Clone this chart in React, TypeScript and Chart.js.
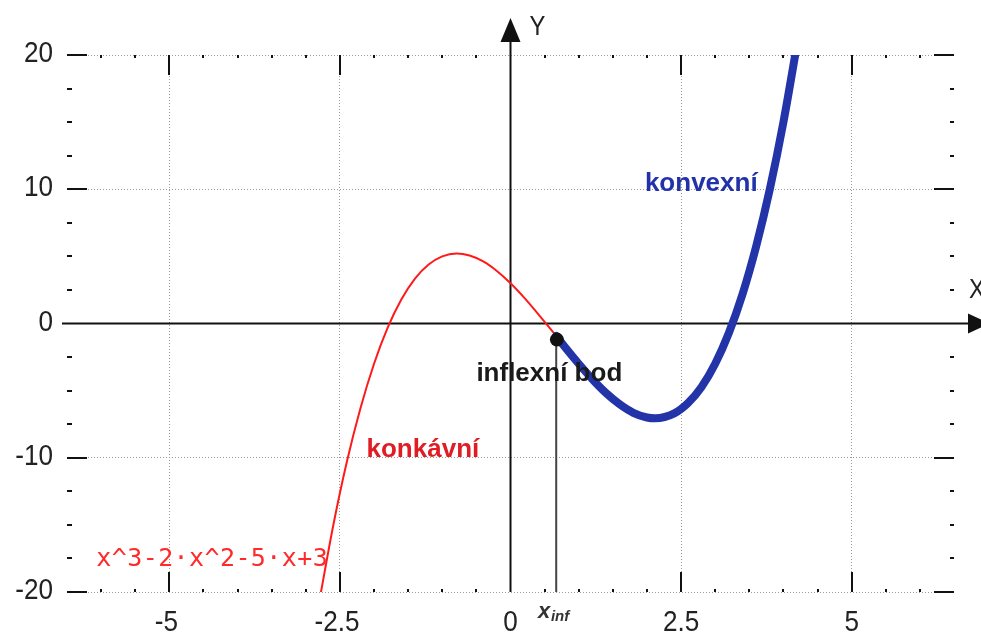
import React, { useEffect, useRef } from "react";
import { Chart, registerables } from "chart.js";

Chart.register(...registerables);

// f(x): red (whole curve, concave part visible) and blue (convex part)
const redX = [-2.8, -2.6, -2.4, -2.2, -2.0, -1.8, -1.6, -1.4, -1.2, -1.0, -0.79, -0.6, -0.4, -0.2, 0, 0.2, 0.4, 0.67, 0.8, 1.0, 1.2, 1.4, 1.6, 1.8, 2.0, 2.12, 2.4, 2.6, 2.8, 3.0, 3.2, 3.4, 3.6, 3.8, 4.0, 4.2];
const redY = [-20.63, -15.1, -10.34, -6.33, -3.0, -0.31, 1.78, 3.34, 4.39, 5.0, 5.21, 5.06, 4.62, 3.91, 3.0, 1.93, 0.74, -0.93, -1.77, -3.0, -4.15, -5.18, -6.02, -6.65, -7.0, -7.06, -6.7, -5.94, -4.73, -3.0, -0.71, 2.18, 5.74, 9.99, 15.0, 20.81];
const blueX = [0.67, 0.8, 1.0, 1.2, 1.4, 1.6, 1.8, 2.0, 2.12, 2.4, 2.6, 2.8, 3.0, 3.2, 3.4, 3.6, 3.8, 4.0, 4.2];
const blueY = [-0.93, -1.77, -3.0, -4.15, -5.18, -6.02, -6.65, -7.0, -7.06, -6.7, -5.94, -4.73, -3.0, -0.71, 2.18, 5.74, 9.99, 15.0, 20.81];
const inflX = [0.68];
const inflY = [-1.2];

const xTickValues = [-5, -2.5, 0, 2.5, 5];
const xTickLabels = ["-5", "-2.5", "0", "2.5", "5"];
const yTickValues = [20, 10, 0, -10, -20];
const yTickLabels = ["20", "10", "0", "-10", "-20"];

const funcLabel = "x^3-2·x^2-5·x+3";
const convexLabel = "konvexní";
const concaveLabel = "konkávní";
const inflLabel = "inflexní bod";

const X_MIN = -6.5;
const X_MAX = 6.5;
const Y_MIN = -20;
const Y_MAX = 20;

function txt(ctx: CanvasRenderingContext2D, s: string, x: number, y: number, font: string, color: string, align: CanvasTextAlign, baseline: CanvasTextBaseline, sx = 1, spacing = "0px") {
  ctx.save();
  ctx.font = font;
  ctx.fillStyle = color;
  ctx.textAlign = align;
  ctx.textBaseline = baseline;
  (ctx as any).letterSpacing = spacing;
  ctx.translate(x, y);
  ctx.scale(sx, 1);
  ctx.fillText(s, 0, 0);
  ctx.restore();
}

const overlay = {
  id: "overlay",
  beforeDatasetsDraw(chart: any) {
    const ctx: CanvasRenderingContext2D = chart.ctx;
    const xs = chart.scales.x;
    const ys = chart.scales.y;
    const a = chart.chartArea;
    const x0 = xs.getPixelForValue(0);
    const y0 = ys.getPixelForValue(0);
    ctx.save();
    ctx.strokeStyle = "#111";
    ctx.fillStyle = "#111";
    ctx.lineWidth = 2;
    ctx.beginPath();
    ctx.moveTo(a.left - 5, y0);
    ctx.lineTo(970, y0);
    ctx.stroke();
    ctx.beginPath();
    ctx.moveTo(968, y0 - 10);
    ctx.lineTo(990, y0);
    ctx.lineTo(968, y0 + 10);
    ctx.closePath();
    ctx.fill();
    ctx.beginPath();
    ctx.moveTo(x0, a.bottom);
    ctx.lineTo(x0, 40);
    ctx.stroke();
    ctx.beginPath();
    ctx.moveTo(x0 - 10, 42);
    ctx.lineTo(x0, 18);
    ctx.lineTo(x0 + 10, 42);
    ctx.closePath();
    ctx.fill();
    ctx.restore();
  },
  afterDraw(chart: any) {
    const ctx: CanvasRenderingContext2D = chart.ctx;
    const xs = chart.scales.x;
    const ys = chart.scales.y;
    const a = chart.chartArea;
    ctx.save();
    ctx.fillStyle = "#111";
    for (let v = -6; v <= 6.001; v += 0.5) {
      const px = Math.round(xs.getPixelForValue(v));
      if (Math.abs(v) < 1e-6) continue;
      const major = Math.abs(v % 2.5) < 1e-6;
      if (major) {
        ctx.fillRect(px - 1, a.top, 2, 20);
        ctx.fillRect(px - 1, a.bottom - 20, 2, 20);
      } else {
        ctx.fillRect(px - 1, a.top, 2, 3);
        ctx.fillRect(px - 1, a.bottom - 3, 2, 3);
      }
    }
    for (let v = -20; v <= 20.001; v += 2.5) {
      const py = Math.round(ys.getPixelForValue(v));
      const major = Math.abs(v % 10) < 1e-6;
      if (major) {
        if (Math.abs(v) < 1e-6) continue;
        ctx.fillRect(a.left, py - 1, 20, 2);
        ctx.fillRect(a.right - 20, py - 1, 20, 2);
      } else {
        ctx.fillRect(a.left, py - 1, 5, 2);
        ctx.fillRect(a.right - 4, py - 1, 4, 2);
      }
    }
    ctx.restore();

    const tickFont = '29px "Liberation Sans", Arial, sans-serif';
    yTickValues.forEach((v, i) => {
      txt(ctx, yTickLabels[i], 53, ys.getPixelForValue(v) - 1, tickFont, "#222", "right", "middle", 0.9);
    });
    xTickValues.forEach((v, i) => {
      txt(ctx, xTickLabels[i], xs.getPixelForValue(v) - (v < 0 ? 3 : 0), 631, tickFont, "#222", "center", "alphabetic", 0.9);
    });
    txt(ctx, "Y", xs.getPixelForValue(0) + 19, 35, '28px "Liberation Sans", Arial, sans-serif', "#222", "left", "alphabetic", 0.85);
    txt(ctx, "X", 969, 298, '28px "Liberation Sans", Arial, sans-serif', "#222", "left", "alphabetic", 0.85);

    const bold = 'bold 26px "Liberation Sans", Arial, sans-serif';
    txt(ctx, convexLabel, xs.getPixelForValue(1.97), ys.getPixelForValue(9.85), bold, "#2233aa", "left", "alphabetic");
    txt(ctx, concaveLabel, xs.getPixelForValue(-2.11), ys.getPixelForValue(-9.93), bold, "#e01c24", "left", "alphabetic");
    txt(ctx, inflLabel, xs.getPixelForValue(-0.5), ys.getPixelForValue(-4.25), bold, "#1a1a1a", "left", "alphabetic");
    txt(ctx, funcLabel, xs.getPixelForValue(-6.07), ys.getPixelForValue(-18.06), '25px "DejaVu Sans Mono", monospace', "#ff2a2a", "left", "alphabetic", 1, "0.4px");
    const xi = xs.getPixelForValue(inflX[0]);
    txt(ctx, "x", xi - 19, 618, 'italic bold 22px "Liberation Sans", Arial, sans-serif', "#333", "left", "alphabetic");
    txt(ctx, "inf", xi - 6, 621, 'italic bold 15px "Liberation Sans", Arial, sans-serif', "#333", "left", "alphabetic");
  },
};

export default function App() {
  const ref = useRef<HTMLCanvasElement | null>(null);
  useEffect(() => {
    if (!ref.current) return;
    const gridColor = (step: number) => (c: any) => {
      const v = c.tick.value;
      if (Math.abs(v) < 1e-9) return "rgba(0,0,0,0)";
      return Math.abs(v % step) < 1e-9 ? "#9a9a9a" : "rgba(0,0,0,0)";
    };
    const chart = new Chart(ref.current, {
      type: "line",
      data: {
        datasets: [
          {
            data: inflX.map((x, i) => ({ x, y: inflY[i] })),
            showLine: false,
            pointRadius: 7,
            pointBackgroundColor: "#111",
            pointBorderWidth: 0,
            order: 0,
          },
          {
            data: blueX.map((x, i) => ({ x, y: blueY[i] })),
            borderColor: "#2334a8",
            borderWidth: 8,
            borderCapStyle: "round",
            borderJoinStyle: "round",
            pointRadius: 0,
            cubicInterpolationMode: "monotone",
            clip: 0,
            order: 1,
          },
          {
            data: [
              { x: inflX[0] - 0.01, y: Y_MIN },
              { x: inflX[0] - 0.01, y: inflY[0] },
            ],
            borderColor: "#444",
            borderWidth: 2,
            pointRadius: 0,
            clip: 0,
            order: 2,
          },
          {
            data: redX.map((x, i) => ({ x, y: redY[i] })),
            borderColor: "#ff1a1a",
            borderWidth: 2,
            pointRadius: 0,
            cubicInterpolationMode: "monotone",
            clip: 0,
            order: 3,
          },
        ] as any,
      },
      options: {
        animation: false,
        responsive: false,
        maintainAspectRatio: false,
        layout: { padding: { left: 67, right: 27, top: 55, bottom: 42 } },
        plugins: { legend: { display: false }, tooltip: { enabled: false } },
        scales: {
          x: {
            type: "linear",
            min: X_MIN,
            max: X_MAX,
            ticks: { display: false, stepSize: 2.5 },
            grid: { drawTicks: false, color: gridColor(2.5), lineWidth: 1 },
            border: { display: false, dash: [1, 2] },
          },
          y: {
            type: "linear",
            min: Y_MIN,
            max: Y_MAX,
            ticks: { display: false, stepSize: 10 },
            grid: { drawTicks: false, color: gridColor(10), lineWidth: 1 },
            border: { display: false, dash: [1, 2] },
          },
        },
      } as any,
      plugins: [overlay],
    });
    return () => chart.destroy();
  }, []);
  return (
    <div style={{ position: "absolute", left: 0, top: 0, width: 981, height: 634, background: "#fff" }}>
      <canvas ref={ref} width={981} height={634} style={{ display: "block" }} />
    </div>
  );
}
